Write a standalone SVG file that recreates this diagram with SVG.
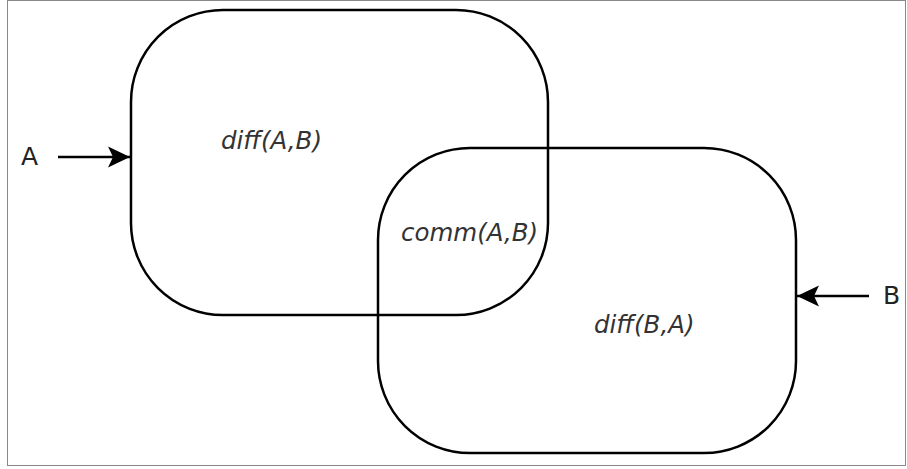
<svg xmlns="http://www.w3.org/2000/svg" width="907" height="469" viewBox="0 0 907 469">
<style>
.box{fill:none;stroke:#000;stroke-width:2.5}
.lbl{font-family:"DejaVu Sans",sans-serif;font-size:25px;fill:#222}
.it{font-family:"DejaVu Sans",sans-serif;font-style:italic;font-size:24.5px;fill:#333}
.conn{stroke:#000;stroke-width:2.5;fill:none}
</style>
<defs>
<marker id="ah" markerUnits="userSpaceOnUse" markerWidth="24" markerHeight="24" viewBox="0 0 24 24" refX="22" refY="12" orient="auto">
<path d="M0,1.5 L22,12 L0,22.5 L5,12 Z" fill="#000"/>
</marker>
</defs>
<rect x="7.5" y="0.5" width="898" height="465" fill="#fff" stroke="#888" stroke-width="1"/>
<g id="setA">
<rect class="box" x="131" y="10" width="417" height="305" rx="92" ry="92"/>
<text class="it" x="221" y="149">diff(A,B)</text>
</g>
<g id="setB">
<rect class="box" x="378" y="148" width="418" height="305" rx="92" ry="92"/>
<text class="it" x="594" y="333">diff(B,A)</text>
</g>
<g id="intersection">
<text class="it" x="401" y="241">comm(A,B)</text>
</g>
<g id="labelA"><text class="lbl" x="21" y="165">A</text></g>
<g id="labelB"><text class="lbl" x="883" y="304">B</text></g>
<g id="connectors">
<line class="conn" x1="58" y1="157" x2="130" y2="157" marker-end="url(#ah)"/>
<line class="conn" x1="869" y1="296" x2="797" y2="296" marker-end="url(#ah)"/>
</g>
</svg>
